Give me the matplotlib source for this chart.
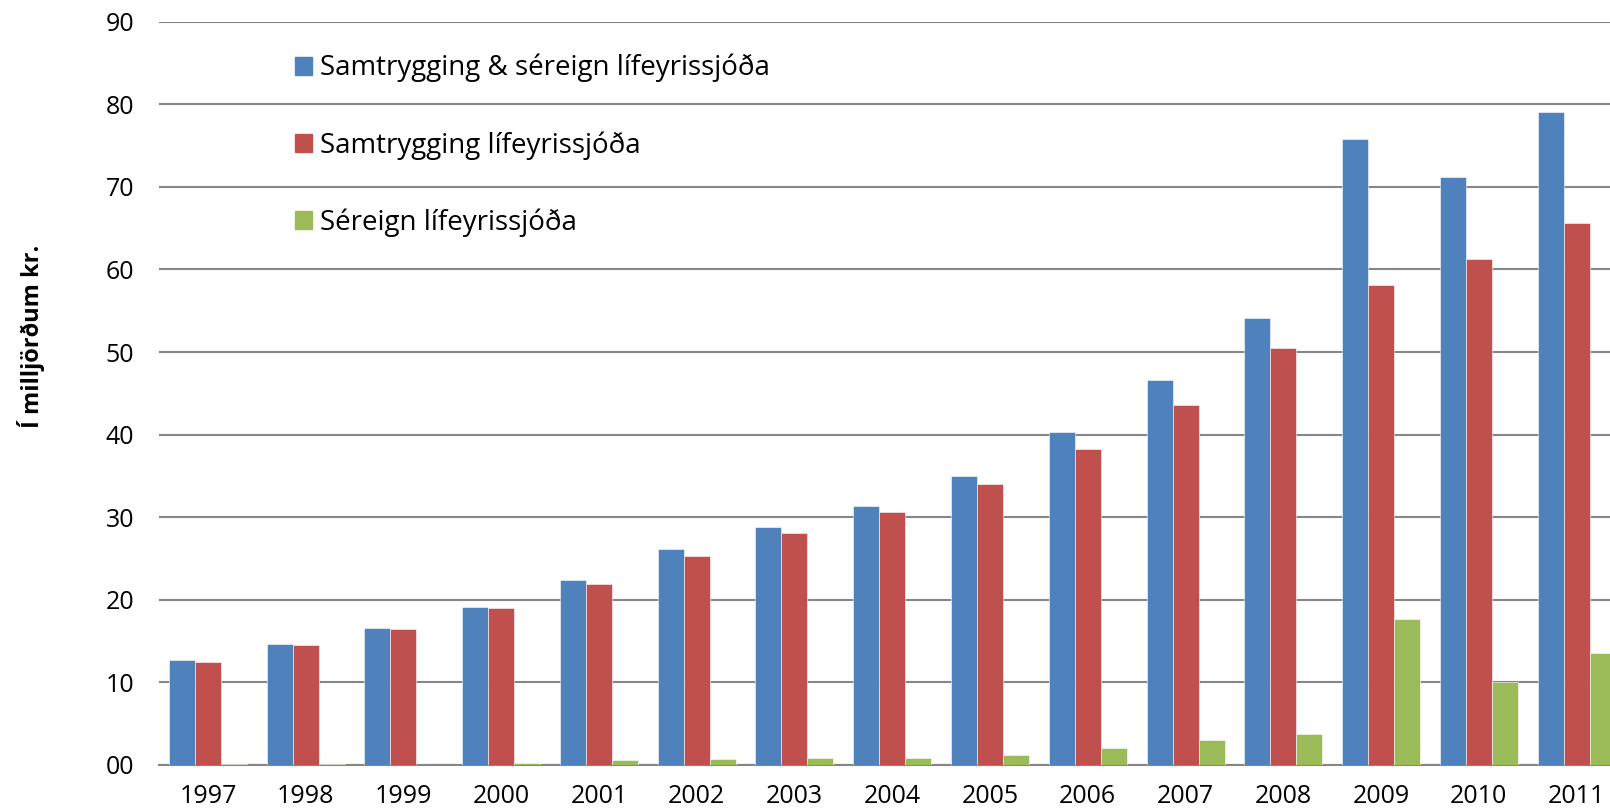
import matplotlib.pyplot as plt
import numpy as np
from matplotlib.patches import Patch

years = ['1997', '1998', '1999', '2000', '2001', '2002', '2003', '2004',
         '2005', '2006', '2007', '2008', '2009', '2010', '2011']
# values in billions of kr.
total = [12.7, 14.7, 16.6, 19.1, 22.4, 26.1, 28.8, 31.4, 35.0, 40.3, 46.6, 54.1, 75.8, 71.2, 79.1]
defined = [12.5, 14.5, 16.5, 19.0, 21.9, 25.3, 28.1, 30.6, 34.0, 38.3, 43.6, 50.5, 58.1, 61.3, 65.6]
private = [0.1, 0.15, 0.05, 0.2, 0.6, 0.75, 0.8, 0.9, 1.2, 2.0, 3.0, 3.7, 17.7, 10.0, 13.6]

labels = ['Samtrygging & séreign lífeyrissjóða',
          'Samtrygging lífeyrissjóða',
          'Séreign lífeyrissjóða']
colors = ['#4F81BD', '#C0504D', '#9BBB59']

plt.rcParams['font.family'] = ['Open Sans', 'DejaVu Sans']

fig = plt.figure(figsize=(16.1, 8.09), dpi=100)
# the original is cropped on the right, so the axes run past the figure edge
ax = fig.add_axes([159/1610, 44/809, (1625.5-159)/1610, (765-21.6)/809])

x = np.arange(len(years))
w = 0.266
for i, (vals, c, lab) in enumerate(zip([total, defined, private], colors, labels)):
    ax.bar(x + (i-1)*w, vals, w, color=c, label=lab, zorder=3,
           edgecolor='white', linewidth=0.4)

ax.set_xlim(-0.5, len(years)-0.5)
ax.set_ylim(0, 90)
ax.set_yticks(range(0, 91, 10))
ax.set_yticklabels(['%02d' % v for v in range(0, 91, 10)], fontsize=18)
ax.set_xticks(x)
ax.set_xticklabels(years, fontsize=18)
ax.tick_params(axis='both', length=0)
ax.tick_params(axis='y', pad=18)
ax.tick_params(axis='x', pad=14)
ax.grid(axis='y', color='#868686', linewidth=1.5, zorder=0)
for s in ['top', 'right', 'left']:
    ax.spines[s].set_visible(False)
ax.spines['bottom'].set_color('#868686')
ax.spines['bottom'].set_linewidth(1.5)

fig.text(31/1610, 1-336/809, 'Í milljörðum kr.', rotation=90, fontsize=17,
         fontweight='bold', ha='center', va='center')

handles = [Patch(color=c) for c in colors]
fig.legend(handles, labels, loc='upper left', bbox_to_anchor=(295/1610, 1-54/809),
           frameon=False, fontsize=20, handlelength=0.61, handleheight=0.61,
           handletextpad=0.3, labelspacing=1.75, borderpad=0, borderaxespad=0)

fig.savefig('out.png', dpi=100)
